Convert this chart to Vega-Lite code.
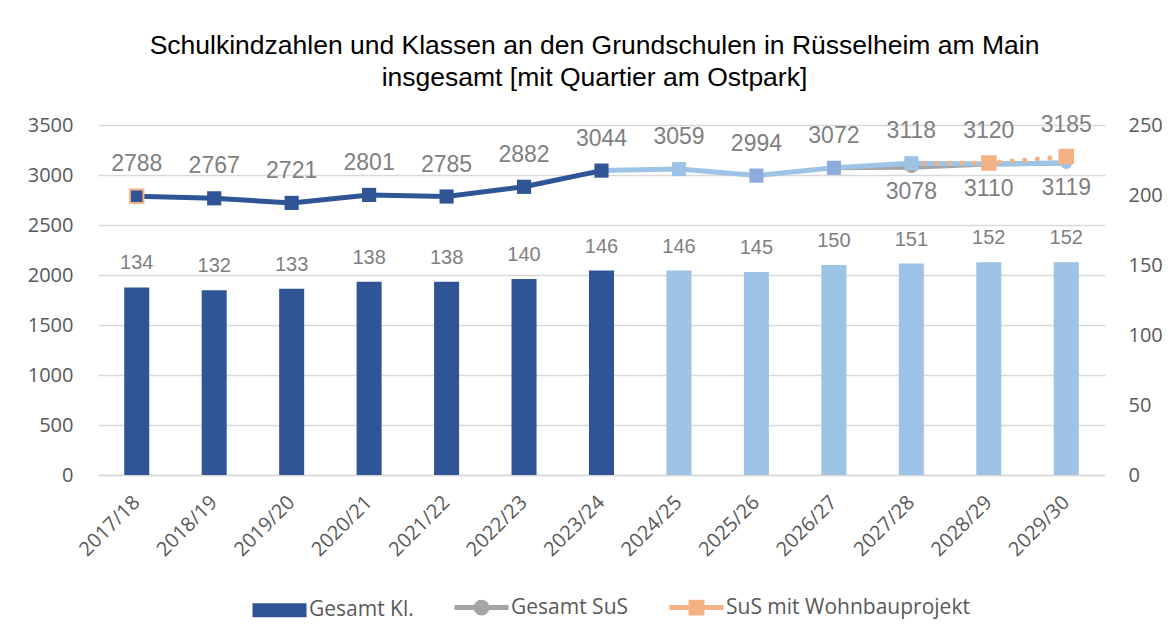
{
  "$schema": "https://vega.github.io/schema/vega-lite/v6.json",
  "width": 1007,
  "height": 350,
  "autosize": "none",
  "padding": {"left": 98, "top": 125, "right": 68, "bottom": 164},
  "background": "white",
  "title": {
    "text": ["Schulkindzahlen und Klassen an den Grundschulen in Rüsselheim am Main", "insgesamt [mit Quartier am Ostpark]"],
    "font": "Liberation Sans", "fontSize": 26.5, "fontWeight": "normal", "color": "#000000",
    "lineHeight": 32, "offset": 22, "dx": -7, "anchor": "middle", "frame": "group"
  },
  "datasets": {
    "klassen": [
      {"jahr": "2017/18", "phase": "Ist", "kl": 134},
      {"jahr": "2018/19", "phase": "Ist", "kl": 132},
      {"jahr": "2019/20", "phase": "Ist", "kl": 133},
      {"jahr": "2020/21", "phase": "Ist", "kl": 138},
      {"jahr": "2021/22", "phase": "Ist", "kl": 138},
      {"jahr": "2022/23", "phase": "Ist", "kl": 140},
      {"jahr": "2023/24", "phase": "Ist", "kl": 146},
      {"jahr": "2024/25", "phase": "Prognose", "kl": 146},
      {"jahr": "2025/26", "phase": "Prognose", "kl": 145},
      {"jahr": "2026/27", "phase": "Prognose", "kl": 150},
      {"jahr": "2027/28", "phase": "Prognose", "kl": 151},
      {"jahr": "2028/29", "phase": "Prognose", "kl": 152},
      {"jahr": "2029/30", "phase": "Prognose", "kl": 152}
    ],
    "sus": [
      {"jahr": "2017/18", "reihe": "ist", "wert": 2788},
      {"jahr": "2018/19", "reihe": "ist", "wert": 2767},
      {"jahr": "2019/20", "reihe": "ist", "wert": 2721},
      {"jahr": "2020/21", "reihe": "ist", "wert": 2801},
      {"jahr": "2021/22", "reihe": "ist", "wert": 2785},
      {"jahr": "2022/23", "reihe": "ist", "wert": 2882},
      {"jahr": "2023/24", "reihe": "ist", "wert": 3044},
      {"jahr": "2023/24", "reihe": "prog", "wert": 3044},
      {"jahr": "2024/25", "reihe": "prog", "wert": 3059},
      {"jahr": "2025/26", "reihe": "prog", "wert": 2994},
      {"jahr": "2026/27", "reihe": "prog", "wert": 3072},
      {"jahr": "2027/28", "reihe": "prog", "wert": 3118},
      {"jahr": "2028/29", "reihe": "prog", "wert": 3110},
      {"jahr": "2029/30", "reihe": "prog", "wert": 3119},
      {"jahr": "2026/27", "reihe": "ges", "wert": 3072},
      {"jahr": "2027/28", "reihe": "ges", "wert": 3078},
      {"jahr": "2028/29", "reihe": "ges", "wert": 3110},
      {"jahr": "2029/30", "reihe": "ges", "wert": 3119},
      {"jahr": "2017/18", "reihe": "wb", "wert": 2788},
      {"jahr": "2027/28", "reihe": "wb", "wert": 3118},
      {"jahr": "2028/29", "reihe": "wb", "wert": 3120},
      {"jahr": "2029/30", "reihe": "wb", "wert": 3185}
    ]
  },
  "encoding": {
    "x": {
      "field": "jahr", "type": "ordinal",
      "scale": {
        "domain": ["2017/18", "2018/19", "2019/20", "2020/21", "2021/22", "2022/23", "2023/24", "2024/25", "2025/26", "2026/27", "2027/28", "2028/29", "2029/30"],
        "paddingInner": 0.677, "paddingOuter": 0.3385
      },
      "axis": {
        "title": null, "labelAngle": -45, "labelAlign": "right", "labelBaseline": "middle",
        "labelFont": "Open Sans", "labelFontSize": 20, "labelColor": "#595959", "labelPadding": 24,
        "ticks": false, "domainColor": "#D9D9D9", "domainWidth": 1.5, "grid": false
      }
    }
  },
  "layer": [
    {
      "data": {"name": "klassen"},
      "encoding": {
        "y": {
          "field": "kl", "type": "quantitative",
          "scale": {"domain": [0, 250], "nice": false},
          "axis": {
            "orient": "right", "title": null, "values": [0, 50, 100, 150, 200, 250],
            "labelFont": "Open Sans", "labelFontSize": 20, "labelColor": "#595959", "labelPadding": 23,
            "ticks": false, "domain": false, "grid": false
          }
        }
      },
      "layer": [
        {
          "transform": [{"filter": "datum.phase === 'Ist'"}],
          "mark": {"type": "bar"},
          "encoding": {
            "color": {
              "datum": "Gesamt Kl.", "type": "nominal",
              "scale": {"domain": ["Gesamt Kl.", "Gesamt SuS", "SuS mit Wohnbauprojekt"], "range": ["#2F5597", "#A5A5A5", "#F4B183"]},
              "legend": {
                "title": null, "orient": "none", "legendX": 171, "legendY": 472, "direction": "horizontal",
                "symbolSize": 2916, "labelFont": "Open Sans", "labelFontSize": 21, "labelColor": "#595959",
                "labelOffset": 19, "columnPadding": 30, "labelLimit": 400,
                "encode": {
                  "symbols": {
                    "update": {
                      "shape": {"signal": "datum.value === 'Gesamt Kl.' ? 'M-1,-0.26H1V0.26H-1Z' : datum.value === 'Gesamt SuS' ? 'M-1,0H1M0.2,0A0.2,0.2,0,1,1,-0.2,0A0.2,0.2,0,1,1,0.2,0Z' : 'M-1,0H1M-0.2,-0.2H0.2V0.2H-0.2Z'"},
                      "fill": {"scale": "color", "field": "value"},
                      "stroke": {"scale": "color", "field": "value"},
                      "strokeWidth": {"signal": "datum.value === 'Gesamt Kl.' ? 0 : 5"},
                      "opacity": {"value": 1},
                      "fillOpacity": {"value": 1},
                      "strokeOpacity": {"value": 1}
                    }
                  }
                }
              }
            }
          }
        },
        {
          "transform": [{"filter": "datum.phase === 'Prognose'"}],
          "mark": {"type": "bar", "color": "#9DC3E6"}
        },
        {
          "mark": {"type": "text", "dy": -24, "baseline": "middle", "font": "Liberation Sans", "fontSize": 20, "color": "#7F7F7F"},
          "encoding": {"text": {"field": "kl", "type": "quantitative"}}
        }
      ]
    },
    {
      "data": {"name": "sus"},
      "encoding": {
        "y": {
          "field": "wert", "type": "quantitative",
          "scale": {"domain": [0, 3500], "nice": false},
          "axis": {
            "orient": "left", "title": null, "values": [0, 500, 1000, 1500, 2000, 2500, 3000, 3500], "format": "d",
            "labelFont": "Open Sans", "labelFontSize": 20, "labelColor": "#595959", "labelPadding": 25,
            "ticks": false, "domain": false, "grid": true, "gridColor": "#D9D9D9", "gridWidth": 1.5
          }
        }
      },
      "layer": [
        {
          "transform": [{"filter": "datum.reihe === 'ges'"}],
          "mark": {"type": "line", "strokeWidth": 5},
          "encoding": {"color": {"datum": "Gesamt SuS", "type": "nominal"}}
        },
        {
          "transform": [{"filter": "datum.reihe === 'ges' && datum.jahr === '2027/28'"}],
          "mark": {"type": "point", "shape": "circle", "filled": true, "size": 140, "color": "#A5A5A5", "opacity": 1}
        },
        {
          "transform": [{"filter": "datum.reihe === 'prog'"}],
          "mark": {"type": "line", "strokeWidth": 5, "color": "#9DC3E6"}
        },
        {
          "transform": [{"filter": "datum.reihe === 'wb' && datum.jahr >= '2027/28'"}],
          "mark": {"type": "line", "strokeWidth": 5, "strokeDash": [0.1, 12.5], "strokeCap": "round"},
          "encoding": {"color": {"datum": "SuS mit Wohnbauprojekt", "type": "nominal"}}
        },
        {
          "transform": [{"filter": "datum.reihe === 'prog' && (datum.jahr === '2024/25' || datum.jahr === '2027/28')"}],
          "mark": {"type": "point", "shape": "square", "filled": true, "size": 200, "color": "#9DC3E6", "opacity": 1}
        },
        {
          "transform": [{"filter": "datum.reihe === 'prog' && (datum.jahr === '2025/26' || datum.jahr === '2026/27')"}],
          "mark": {"type": "point", "shape": "square", "filled": true, "size": 200, "color": "#8FAADC", "opacity": 1}
        },
        {
          "transform": [{"filter": "datum.reihe === 'prog' && datum.jahr >= '2028/29'"}],
          "mark": {"type": "point", "shape": "circle", "filled": true, "size": 140, "color": "#9DC3E6", "opacity": 1}
        },
        {
          "transform": [{"filter": "datum.reihe === 'ist'"}],
          "mark": {"type": "line", "strokeWidth": 5, "color": "#2F5597"}
        },
        {
          "transform": [{"filter": "datum.reihe === 'ist' && datum.jahr !== '2017/18'"}],
          "mark": {"type": "point", "shape": "square", "filled": true, "size": 200, "color": "#2F5597", "opacity": 1}
        },
        {
          "transform": [{"filter": "datum.reihe === 'wb' && datum.jahr >= '2028/29'"}],
          "mark": {"type": "point", "shape": "square", "filled": true, "size": 240, "color": "#F4B183", "opacity": 1}
        },
        {
          "transform": [{"filter": "datum.reihe === 'wb' && datum.jahr === '2017/18'"}],
          "mark": {"type": "point", "shape": "square", "filled": true, "size": 180, "fill": "#2F5597", "stroke": "#F4B183", "strokeWidth": 2, "opacity": 1}
        },
        {
          "transform": [{"filter": "datum.reihe === 'ist' || (datum.reihe === 'prog' && datum.jahr >= '2024/25' && datum.jahr <= '2026/27') || (datum.reihe === 'wb' && datum.jahr >= '2027/28')"}],
          "mark": {"type": "text", "dy": -32, "baseline": "middle", "font": "Liberation Sans", "fontSize": 23, "color": "#7F7F7F"},
          "encoding": {"text": {"field": "wert", "type": "quantitative", "format": "d"}}
        },
        {
          "transform": [{"filter": "datum.reihe === 'ges' && datum.jahr >= '2027/28'"}],
          "mark": {"type": "text", "dy": 25, "baseline": "middle", "font": "Liberation Sans", "fontSize": 23, "color": "#7F7F7F"},
          "encoding": {"text": {"field": "wert", "type": "quantitative", "format": "d"}}
        }
      ]
    }
  ],
  "resolve": {"scale": {"y": "independent"}},
  "config": {"view": {"stroke": null}}
}
